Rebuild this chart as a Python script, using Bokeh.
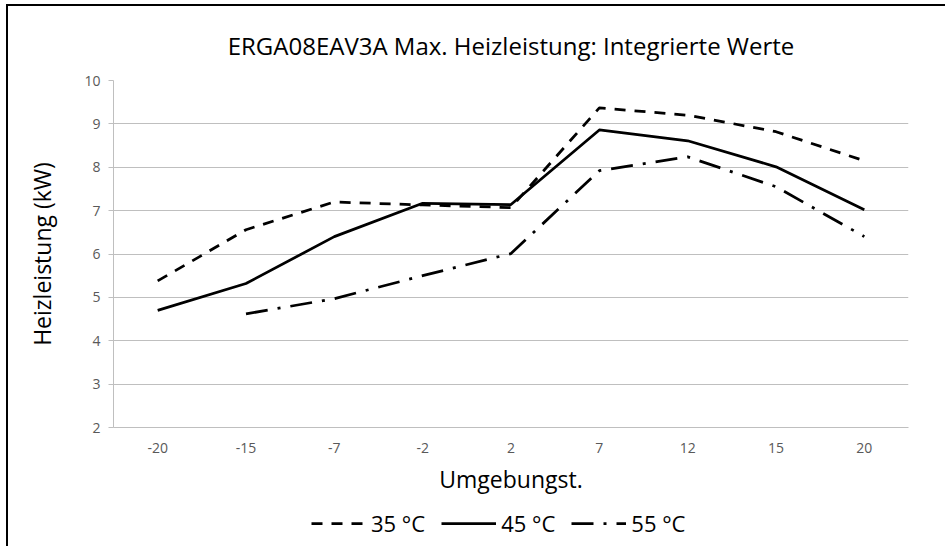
from bokeh.plotting import figure
from bokeh.layouts import column
from bokeh.models import (Range1d, FixedTicker, Legend, LegendItem,
                          ColumnDataSource, Title)
from bokeh.embed import file_html
from bokeh.resources import INLINE

# ---- data ----
categories = ["-20", "-15", "-7", "-2", "2", "7", "12", "15", "20"]
t35 = [5.38, 6.56, 7.20, 7.13, 7.07, 9.37, 9.20, 8.82, 8.15]
t45 = [4.70, 5.32, 6.40, 7.17, 7.14, 8.86, 8.61, 8.01, 7.02]
t55 = [float("nan"), 4.62, 4.97, 5.50, 6.01, 7.92, 8.24, 7.55, 6.40]
y_ticks = [2, 3, 4, 5, 6, 7, 8, 9, 10]
series_names = ["35 °C", "45 °C", "55 °C"]
title_text = "ERGA08EAV3A Max. Heizleistung: Integrierte Werte"
x_title = "Umgebungst."
y_title = "Heizleistung (kW)"

FONT = "Open Sans"
GRID = "#bfbfbf"
W = 939

src = ColumnDataSource(dict(x=categories, a=t35, b=t45, c=t55))

p = figure(width=W, height=500, x_range=categories, y_range=Range1d(2, 10),
           output_backend="svg", toolbar_location=None, title=None,
           min_border_left=105, min_border_right=39, min_border_top=74,
           min_border_bottom=79, outline_line_color=None)
p.x_range.range_padding = 0

# title
p.add_layout(Title(text=title_text, align="center", text_font=FONT,
                   text_font_size="24px", text_font_style="normal",
                   text_color="black", standoff=38), "above")

# axes
p.yaxis.ticker = FixedTicker(ticks=y_ticks)
p.yaxis.axis_line_color = GRID
p.yaxis.major_tick_line_color = GRID
p.yaxis.major_tick_out = 5
p.yaxis.major_tick_in = 0
p.yaxis.minor_tick_line_color = None
p.yaxis.major_label_standoff = 8
p.yaxis.major_label_text_font = FONT
p.yaxis.major_label_text_font_size = "14px"
p.yaxis.major_label_text_color = "#595959"
p.yaxis.axis_label = y_title
p.yaxis.axis_label_standoff = 23
p.yaxis.axis_label_text_font = FONT
p.yaxis.axis_label_text_font_size = "23px"
p.yaxis.axis_label_text_font_style = "normal"
p.yaxis.axis_label_text_color = "black"

p.xaxis.axis_line_color = GRID
p.xaxis.major_tick_line_color = None
p.xaxis.minor_tick_line_color = None
p.xaxis.major_label_standoff = 9
p.xaxis.major_label_text_font = FONT
p.xaxis.major_label_text_font_size = "14px"
p.xaxis.major_label_text_color = "#595959"
p.xaxis.axis_label = x_title
p.xaxis.axis_label_standoff = 7
p.xaxis.axis_label_text_font = FONT
p.xaxis.axis_label_text_font_size = "23px"
p.xaxis.axis_label_text_font_style = "normal"
p.xaxis.axis_label_text_color = "black"

p.xgrid.grid_line_color = None
p.ygrid.grid_line_color = GRID
p.ygrid.grid_line_width = 1

lw = 2.75
styles = [dict(line_dash="11 9"), dict(line_dash="solid"),
          dict(line_dash="22 10 3 10")]
cols = ["a", "b", "c"]
for col, st in zip(cols, styles):
    p.line("x", col, source=src, line_color="black", line_width=lw,
           line_join="round", **st)

# legend strip below the chart (same series, drawn outside its range)
pl = figure(width=W, height=42, x_range=categories, y_range=Range1d(100, 101),
            output_backend="svg", toolbar_location=None, title=None,
            x_axis_type=None, y_axis_type=None, min_border=0,
            outline_line_color=None)
pl.xgrid.grid_line_color = None
pl.ygrid.grid_line_color = None
items = []
for col, st, name in zip(cols, styles, series_names):
    r = pl.line("x", col, source=src, line_color="black", line_width=lw, **st)
    items.append(LegendItem(label=name, renderers=[r]))
legend = Legend(items=items, orientation="horizontal", location=(198, 10),
                glyph_width=55, glyph_height=20, label_standoff=5, spacing=16,
                padding=0, margin=0, border_line_color=None,
                background_fill_alpha=0, label_text_font=FONT,
                label_text_font_size="22px", label_text_color="black")
pl.add_layout(legend, "center")

lay = column(p, pl, spacing=0)
lay.margin = (6, 0, 0, 8)
lay.styles = {"box-shadow": "-2px -2px 0px 0px #000000"}

open("out.html", "w").write(file_html(lay, INLINE))
